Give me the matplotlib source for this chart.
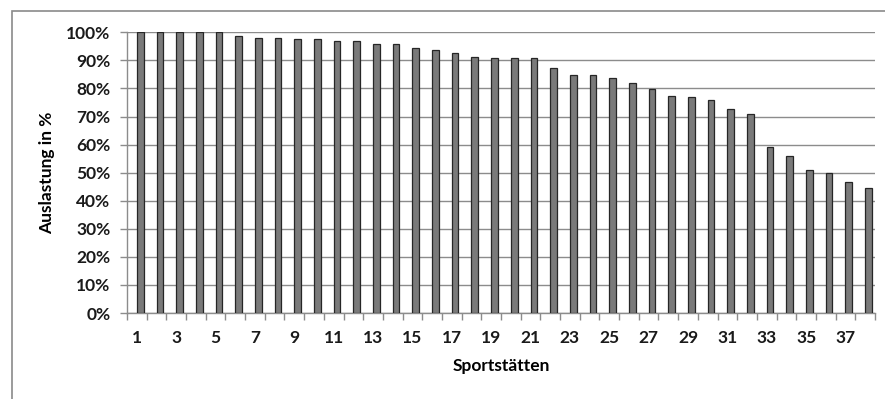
import numpy as np
import matplotlib.pyplot as plt
from matplotlib.patches import Rectangle
from matplotlib.ticker import FixedLocator, PercentFormatter

plt.rcParams['font.family'] = ['Lato', 'DejaVu Sans']

# Auslastung je Sportstaette (in %)
sportstaetten = list(range(1, 39))
auslastung = [100, 100, 100, 100, 100, 98.7, 97.9, 97.9, 97.5, 97.5,
              97.0, 97.0, 95.8, 95.8, 94.5, 93.7, 92.5, 91.1, 90.7, 90.7,
              90.7, 87.4, 84.9, 84.9, 83.7, 82.0, 79.9, 77.4, 76.9, 75.9,
              72.8, 71.0, 59.0, 56.0, 50.9, 49.7, 46.7, 44.7]
tick_labels = [str(n) if n % 2 == 1 else '' for n in sportstaetten]

W, H = 885, 399
fig = plt.figure(figsize=(W / 100, H / 100), dpi=100)

# chart area border (cut off at the right and bottom)
fig.patches.append(Rectangle((12 / W, -0.1), 1.2, 1 - 11 / H + 0.1,
                             transform=fig.transFigure, fill=False,
                             edgecolor='#8a8a8a', linewidth=1.2))

ax = fig.add_axes([127 / W, 1 - 313 / H, (875 - 127) / W, (313 - 32.3) / H])

x = np.array(sportstaetten)
ax.bar(x + 0.17, auslastung, width=0.34, color='#7a7a7a',
       edgecolor='#262626', linewidth=0.9, zorder=3)

ax.set_xlim(0.5, 38.5)
ax.set_ylim(0, 100)
ax.set_yticks(np.arange(0, 101, 10))
ax.yaxis.set_major_formatter(PercentFormatter(decimals=0))
ax.grid(axis='y', color='#8c8c8c', linewidth=1.0, zorder=0)

ax.set_xticks(x)
ax.set_xticklabels(tick_labels)
ax.xaxis.set_minor_locator(FixedLocator(np.arange(0.5, 39, 1)))
ax.tick_params(axis='x', which='major', length=0, pad=12)
ax.tick_params(axis='x', which='minor', length=5, color='#8c8c8c', width=1)
ax.tick_params(axis='y', length=5, color='#8c8c8c', width=1, pad=7)

for lbl in ax.get_xticklabels() + ax.get_yticklabels():
    lbl.set_fontsize(12.5)
    lbl.set_fontweight('bold')
    lbl.set_color('#1a1a1a')

for side in ['top', 'right']:
    ax.spines[side].set_visible(False)
for side in ['left', 'bottom']:
    ax.spines[side].set_color('#8c8c8c')
    ax.spines[side].set_linewidth(1.0)

ax.set_xlabel('Sportstätten', fontsize=12.5, fontweight='bold', labelpad=9)
ax.set_ylabel('Auslastung in %', fontsize=12.5, fontweight='bold', labelpad=8)

fig.savefig('out.png', dpi=100)
